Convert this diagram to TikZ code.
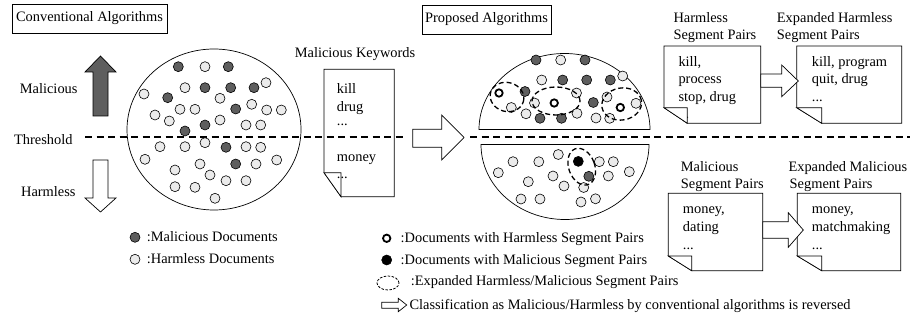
\documentclass[tikz,border=0pt]{standalone}
\usepackage{fontspec}
\setmainfont{Liberation Serif}
\definecolor{maldark}{HTML}{5E5E5E}
\definecolor{harmlight}{HTML}{EBEBEB}
\tikzset{
  txt/.style={font=\fontsize{14.4}{16}\selectfont, inner sep=0pt, anchor=base west},
  ctxt/.style={txt, anchor=base},
  titlebox/.style={draw, line width=0.6pt, font=\fontsize{14.4}{16}\selectfont,
                   minimum height=29pt, inner sep=0pt},
  maldot/.style={fill=maldark, draw=black, line width=0.6pt},
  harmdot/.style={fill=harmlight, draw=black, line width=0.6pt},
  ringdot/.style={fill=white, draw=black, line width=1.8pt},
  segdot/.style={fill=black, draw=black, line width=0.6pt},
  docline/.style={draw=black, line width=0.7pt, fill=white},
  blockarrow/.style={draw=black, line width=0.7pt, fill=white},
  threshold/.style={line width=1.6pt, dash pattern=on 7pt off 4.5pt},
  expand/.style={line width=1.3pt, dash pattern=on 5pt off 3pt},
}
\begin{document}
\begin{tikzpicture}[x=1pt,y=-1pt]
\useasboundingbox (0,0) rectangle (910,320);

% ---------------- conventional side ----------------
\node[titlebox, minimum width=155pt] (convtitle) at (89.5,18.5) {Conventional Algorithms};

\node[ctxt] (lblmal) at (48.7,94) {Malicious};
\node[ctxt] (lblthr) at (43.3,144.5) {Threshold};
\node[ctxt] (lblharm) at (48.3,197) {Harmless};

% direction arrows
\draw[line width=0.7pt, fill=maldark] (93,116) -- (93,72) -- (85,72) -- (100.5,56)
  -- (116,72) -- (108,72) -- (108,116) -- cycle;
\draw[blockarrow] (93,160) -- (108,160) -- (108,198) -- (116,198) -- (100.5,212)
  -- (85,198) -- (93,198) -- cycle;

% keyword document
\draw[docline] (324,69.3) -- (394.3,69.3) -- (394.3,196.7) -- (341,196.7) -- (324,172.7) -- cycle;
\draw[docline] (324,172.7) -- (341,172.7) -- (341,196.7) -- cycle;
\node[ctxt] (kwtitle) at (355,57.5) {Malicious Keywords};
\node[txt] (kw1) at (336.7,93.3) {kill};
\node[txt] (kw2) at (336.7,111.6) {drug};
\node[txt] (kw3) at (336.7,126) {...};
\node[txt] (kw4) at (336.7,161.7) {money};
\node[txt] (kw5) at (336.7,178.3) {...};

% threshold line
\coordinate (thrA) at (85,137);
\coordinate (thrB) at (407,137);
\coordinate (thrC) at (470,137);
\coordinate (thrD) at (910,137);
\draw[threshold] (thrA) -- (thrB);
\draw[threshold] (thrC) -- (thrD);

% document set, conventional
\draw[line width=0.7pt] (214,129.5) ellipse [x radius=87pt, y radius=80.5pt];
\foreach \p in {(178.3,66.7),(228.3,66.7),(205,87.7),(230.7,87.7),(254,87.7),
                (167.7,97.7),(235.7,109),(185,131),(205,125),(226,147.3),(235.7,164)}
  \draw[maldot] \p circle[radius=5pt];
\foreach \p in {(205,66.7),(185,87.7),(266,82.7),(144,94),(220,98.3),(155,115),
                (169.3,121),(180,109.3),(195,109.3),(251.7,104.3),(266.7,110),
                (281.3,110),(220,120),(246,125),(260.7,125),(160,146.7),(185,146.7),
                (205,142.7),(246,146.7),(260.7,147.3),(145,159.3),(200,164),(256,164),
                (276.7,160),(175,170),(210,175),(226,180.7),(246,180.7),(175,186.7),
                (195,187.3),(215,198.3)}
  \draw[harmdot] \p circle[radius=5pt];

% legend, conventional
\draw[maldot] (135,237.3) circle[radius=5pt];
\node[txt] (legmal) at (146.7,242) {:Malicious Documents};
\draw[harmdot] (135,259.3) circle[radius=5pt];
\node[txt] (legharm) at (146.7,264) {:Harmless Documents};

% transition arrow
\draw[blockarrow] (412.7,129.3) -- (441.7,129.3) -- (441.7,115) -- (464,137.5)
  -- (441.7,160) -- (441.7,147.3) -- (412.7,147.3) -- cycle;

% ---------------- proposed side ----------------
\node[titlebox, minimum width=129pt] (proptitle) at (486.5,19.5) {Proposed Algorithms};

\draw[line width=0.7pt] (479,129.5) arc[start angle=180, end angle=0, x radius=85.5pt, y radius=76pt] -- cycle;
\draw[line width=0.7pt] (481,144.5) arc[start angle=180, end angle=360, x radius=84pt, y radius=75pt] -- cycle;

% upper part
\foreach \p in {(536,60),(585,60),(562.7,80),(586.7,80),(610.3,80),(525,91.5),
                (593.3,102.5),(540,118.3),(561.5,118.3)}
  \draw[maldot] \p circle[radius=5pt];
\foreach \p in {(560.7,60),(541.7,80),(622.7,76),(576.5,93),(607,97),(534.5,103),
                (636,103.3),(511.3,107.5),(526,113.8),(577,113.3),(596,118),(609.7,118.3)}
  \draw[harmdot] \p circle[radius=5pt];
\foreach \p in {(499,93),(554.2,103),(620.3,107.5)}
  \draw[ringdot] \p circle[radius=3.7pt];
\draw[expand, rotate around={-15:(507,97)}] (507,97) ellipse [x radius=17pt, y radius=14.5pt];
\draw[expand] (556,101) ellipse [x radius=24pt, y radius=14pt];
\draw[expand, rotate around={10:(621.7,104)}] (621.7,104) ellipse [x radius=20pt, y radius=16pt];

% lower part
\foreach \p in {(513,161.7),(538.8,161.7),(558.3,154.5),(599.3,161.7),(613.3,161.7),
                (498.3,172.7),(629.3,171.7),(553,176),(608.3,176),(528.3,181.7),
                (564,186),(583.7,187.5),(521,199),(540,199),(581,202),(595.5,198.8)}
  \draw[harmdot] \p circle[radius=5pt];
\draw[maldot] (588.8,176.3) circle[radius=5pt];
\draw[segdot] (578.3,161.4) circle[radius=5pt];
\draw[expand, rotate around={20:(581.7,166.7)}] (581.7,166.7) ellipse [x radius=13pt, y radius=19pt];

% legend, proposed
\draw[ringdot] (386.7,238.3) circle[radius=3.7pt];
\node[txt] (legring) at (400.5,243) {:Documents with Harmless Segment Pairs};
\draw[segdot] (386.7,260) circle[radius=5pt];
\node[txt] (legblack) at (400.5,264.7) {:Documents with Malicious Segment Pairs};
\draw[line width=0.8pt, dash pattern=on 2.5pt off 1.5pt] (388,283) ellipse [x radius=11pt, y radius=7pt];
\node[txt] (legexp) at (410.7,286) {:Expanded Harmless/Malicious Segment Pairs};
\draw[blockarrow] (381.7,302.3) -- (398.3,302.3) -- (398.3,298.3) -- (406.7,305)
  -- (398.3,311.7) -- (398.3,308.3) -- (381.7,308.3) -- cycle;
\node[txt] (legrev) at (409.3,309) {Classification as Malicious/Harmless by conventional algorithms is reversed};

% ---------------- segment pair documents ----------------
% harmless segment pairs
\node[txt] (hsp1) at (673.3,22.7) {Harmless};
\node[txt] (hsp2) at (673.3,40) {Segment Pairs};
\draw[docline] (664,46) -- (760.7,46) -- (760.7,123.3) -- (687.3,123.3) -- (664,107.7) -- cycle;
\node[txt] (hd1) at (678.3,66.7) {kill,};
\node[txt] (hd2) at (678.3,84) {process};
\node[txt] (hd3) at (678.3,101.7) {stop, drug};
\node[txt] (hd4) at (678.3,118.3) {...};
\draw[docline] (664,107.7) -- (687.3,107.7) -- (687.3,123.3) -- cycle;

% expanded harmless segment pairs
\node[txt] (ehsp1) at (776.7,22.7) {Expanded Harmless};
\node[txt] (ehsp2) at (776.7,40) {Segment Pairs};
\draw[docline] (796.7,46) -- (901.7,46) -- (901.7,123.3) -- (821.7,123.3) -- (796.7,107.7) -- cycle;
\draw[docline] (796.7,107.7) -- (821.7,107.7) -- (821.7,123.3) -- cycle;
\node[txt] (ehd1) at (811.7,66.7) {kill, program};
\node[txt] (ehd2) at (811.7,84) {quit, drug};
\node[txt] (ehd3) at (811.7,101.7) {...};
\draw[blockarrow] (760.7,74) -- (781.7,74) -- (781.7,65) -- (798.3,81)
  -- (781.7,96.7) -- (781.7,87.3) -- (760.7,87.3) -- cycle;

% malicious segment pairs
\node[txt] (msp1) at (680.7,171.7) {Malicious};
\node[txt] (msp2) at (680.7,188.3) {Segment Pairs};
\draw[docline] (668.3,193.3) -- (762.7,193.3) -- (762.7,270.7) -- (691.7,270.7) -- (668.3,256) -- cycle;
\draw[docline] (668.3,256) -- (691.7,256) -- (691.7,270.7) -- cycle;
\node[txt] (md1) at (682.7,213.3) {money,};
\node[txt] (md2) at (682.7,231.7) {dating};
\node[txt] (md3) at (682.7,249.3) {...};

% expanded malicious segment pairs
\node[txt] (emsp1) at (788.3,171.7) {Expanded Malicious};
\node[txt] (emsp2) at (789.5,188.3) {Segment Pairs};
\draw[docline] (797.3,193.3) -- (900.7,193.3) -- (900.7,270.7) -- (821.7,270.7) -- (797.3,256) -- cycle;
\draw[docline] (797.3,256) -- (821.7,256) -- (821.7,270.7) -- cycle;
\node[txt] (emd1) at (811.7,213.3) {money,};
\node[txt] (emd2) at (811.7,231.7) {matchmaking};
\node[txt] (emd3) at (811.7,249.3) {...};
\draw[blockarrow] (762.7,221.7) -- (788.3,221.7) -- (788.3,212.7) -- (803.3,230)
  -- (788.3,247.3) -- (788.3,238.3) -- (762.7,238.3) -- cycle;
\end{tikzpicture}
\end{document}
